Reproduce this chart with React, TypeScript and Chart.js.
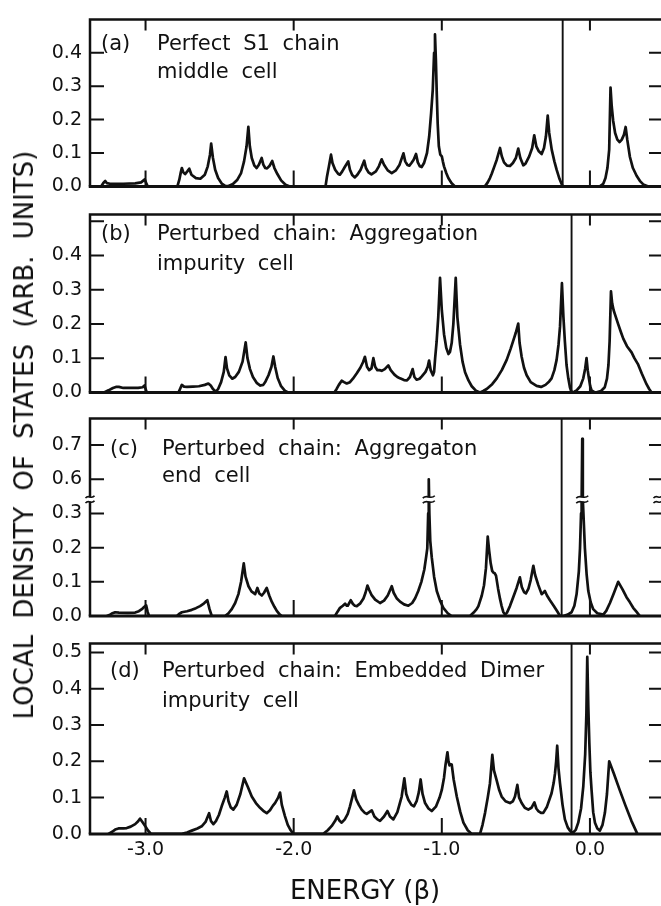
import { useEffect, useRef } from 'react';
import { Chart, registerables } from 'chart.js';

Chart.register(...registerables);

type Pt = [number, number];

// ---------- data ----------
const energyRange = [-3.375, 0.5];
const energyTicks = [-3, -2, -1, 0];

const dosPanelA: Pt[] = [
  [-3.30, 0], [-3.285, 0.010], [-3.272, 0.016], [-3.262, 0.010], [-3.24, 0.008], [-3.15, 0.008], [-3.07, 0.009], [-3.03, 0.012], [-3.005, 0.021], [-2.992, 0.006], [-2.985, 0],
  [-2.785, 0], [-2.772, 0.02], [-2.762, 0.042], [-2.755, 0.055], [-2.745, 0.042], [-2.733, 0.037], [-2.718, 0.045], [-2.705, 0.053], [-2.69, 0.035], [-2.66, 0.025], [-2.63, 0.023], [-2.60, 0.035], [-2.58, 0.06], [-2.565, 0.095], [-2.557, 0.128], [-2.545, 0.085], [-2.53, 0.05], [-2.51, 0.025], [-2.485, 0.008], [-2.46, 0.001], [-2.44, 0.001], [-2.41, 0.007], [-2.38, 0.02], [-2.355, 0.04], [-2.335, 0.075], [-2.318, 0.12], [-2.306, 0.178], [-2.296, 0.12], [-2.283, 0.085], [-2.265, 0.062], [-2.25, 0.055], [-2.235, 0.065], [-2.216, 0.085], [-2.205, 0.065], [-2.192, 0.055], [-2.18, 0.054], [-2.162, 0.062], [-2.145, 0.076], [-2.13, 0.055], [-2.11, 0.037], [-2.085, 0.018], [-2.055, 0.005], [-2.026, 0],
  [-1.785, 0], [-1.775, 0.03], [-1.762, 0.06], [-1.748, 0.095], [-1.738, 0.07], [-1.72, 0.05], [-1.70, 0.038], [-1.688, 0.035], [-1.672, 0.045], [-1.655, 0.058], [-1.632, 0.075], [-1.62, 0.05], [-1.605, 0.034], [-1.587, 0.027], [-1.57, 0.035], [-1.548, 0.05], [-1.524, 0.077], [-1.512, 0.055], [-1.495, 0.042], [-1.475, 0.036], [-1.445, 0.045], [-1.425, 0.06], [-1.406, 0.081], [-1.39, 0.065], [-1.365, 0.048], [-1.338, 0.04], [-1.31, 0.048], [-1.285, 0.065], [-1.259, 0.099], [-1.247, 0.075], [-1.232, 0.064], [-1.219, 0.062], [-1.205, 0.07], [-1.19, 0.08], [-1.174, 0.097], [-1.162, 0.072], [-1.148, 0.06], [-1.136, 0.058], [-1.12, 0.07], [-1.1, 0.1], [-1.085, 0.15], [-1.072, 0.22], [-1.061, 0.29], [-1.052, 0.4], [-1.046, 0.455], [-1.04, 0.38], [-1.034, 0.277], [-1.028, 0.19], [-1.02, 0.12], [-1.01, 0.095], [-1.0, 0.09], [-0.993, 0.075], [-0.985, 0.06], [-0.97, 0.04], [-0.956, 0.025], [-0.935, 0.01], [-0.911, 0],
  [-0.709, 0], [-0.69, 0.012], [-0.675, 0.025], [-0.663, 0.038], [-0.645, 0.06], [-0.629, 0.08], [-0.607, 0.115], [-0.595, 0.09], [-0.58, 0.072], [-0.56, 0.062], [-0.54, 0.061], [-0.52, 0.07], [-0.5, 0.085], [-0.484, 0.113], [-0.47, 0.085], [-0.45, 0.063], [-0.435, 0.068], [-0.41, 0.09], [-0.39, 0.115], [-0.376, 0.153], [-0.362, 0.12], [-0.345, 0.105], [-0.326, 0.097], [-0.31, 0.115], [-0.297, 0.15], [-0.285, 0.212], [-0.275, 0.16], [-0.258, 0.11], [-0.24, 0.075], [-0.225, 0.05], [-0.205, 0.022], [-0.191, 0.007], [-0.184, 0],
  [0.067, 0], [0.09, 0.008], [0.105, 0.025], [0.118, 0.055], [0.13, 0.11], [0.139, 0.296], [0.147, 0.24], [0.157, 0.196], [0.17, 0.16], [0.185, 0.14], [0.2, 0.133], [0.215, 0.14], [0.23, 0.155], [0.241, 0.178], [0.252, 0.14], [0.27, 0.088], [0.29, 0.055], [0.315, 0.032], [0.34, 0.015], [0.36, 0.006], [0.394, 0],
];

const dosPanelB: Pt[] = [
  [-3.28, 0], [-3.25, 0.006], [-3.22, 0.013], [-3.20, 0.016], [-3.18, 0.016], [-3.15, 0.013], [-3.10, 0.013], [-3.05, 0.013], [-3.02, 0.015], [-3.007, 0.02], [-2.998, 0.008], [-2.992, 0],
  [-2.777, 0], [-2.765, 0.012], [-2.755, 0.022], [-2.74, 0.017], [-2.72, 0.016], [-2.68, 0.017], [-2.64, 0.018], [-2.60, 0.022], [-2.576, 0.026], [-2.56, 0.02], [-2.545, 0.01], [-2.525, 0.002], [-2.51, 0.01], [-2.49, 0.03], [-2.472, 0.06], [-2.46, 0.103], [-2.45, 0.07], [-2.435, 0.05], [-2.415, 0.04], [-2.395, 0.045], [-2.37, 0.06], [-2.345, 0.09], [-2.324, 0.146], [-2.312, 0.1], [-2.295, 0.068], [-2.275, 0.045], [-2.25, 0.028], [-2.225, 0.02], [-2.205, 0.022], [-2.19, 0.032], [-2.17, 0.05], [-2.15, 0.075], [-2.137, 0.105], [-2.125, 0.075], [-2.108, 0.042], [-2.085, 0.018], [-2.06, 0.005], [-2.038, 0],
  [-1.725, 0], [-1.71, 0.01], [-1.695, 0.022], [-1.676, 0.034], [-1.66, 0.03], [-1.642, 0.026], [-1.62, 0.03], [-1.6, 0.04], [-1.575, 0.055], [-1.55, 0.072], [-1.532, 0.088], [-1.519, 0.104], [-1.505, 0.075], [-1.49, 0.065], [-1.475, 0.07], [-1.462, 0.1], [-1.45, 0.075], [-1.435, 0.065], [-1.42, 0.065], [-1.406, 0.063], [-1.385, 0.068], [-1.361, 0.079], [-1.345, 0.065], [-1.32, 0.052], [-1.3, 0.045], [-1.282, 0.041], [-1.255, 0.036], [-1.235, 0.035], [-1.215, 0.045], [-1.197, 0.068], [-1.185, 0.045], [-1.17, 0.037], [-1.15, 0.04], [-1.135, 0.047], [-1.11, 0.06], [-1.095, 0.075], [-1.086, 0.093], [-1.075, 0.065], [-1.06, 0.05], [-1.052, 0.06], [-1.045, 0.1], [-1.035, 0.148], [-1.024, 0.22], [-1.012, 0.335], [-1.0, 0.24], [-0.985, 0.17], [-0.97, 0.13], [-0.955, 0.112], [-0.945, 0.118], [-0.933, 0.145], [-0.922, 0.2], [-0.906, 0.335], [-0.895, 0.22], [-0.877, 0.14], [-0.86, 0.09], [-0.843, 0.059], [-0.82, 0.035], [-0.798, 0.018], [-0.77, 0.005], [-0.742, 0],
  [-0.72, 0.004], [-0.697, 0.01], [-0.66, 0.024], [-0.629, 0.041], [-0.595, 0.065], [-0.562, 0.095], [-0.535, 0.128], [-0.517, 0.152], [-0.5, 0.175], [-0.484, 0.201], [-0.475, 0.145], [-0.461, 0.104], [-0.445, 0.072], [-0.427, 0.05], [-0.4, 0.03], [-0.36, 0.019], [-0.33, 0.016], [-0.3, 0.022], [-0.275, 0.032], [-0.259, 0.041], [-0.24, 0.065], [-0.225, 0.095], [-0.212, 0.14], [-0.202, 0.192], [-0.189, 0.319], [-0.179, 0.22], [-0.169, 0.148], [-0.158, 0.08], [-0.146, 0.041], [-0.135, 0.015], [-0.124, 0],
  [-0.105, 0.002], [-0.09, 0.006], [-0.065, 0.018], [-0.045, 0.041], [-0.032, 0.07], [-0.023, 0.1], [-0.015, 0.065], [-0.007, 0.041], [0.002, 0.018], [0.011, 0.006], [0.03, 0.001], [0.045, 0],
  [0.075, 0.004], [0.1, 0.015], [0.115, 0.04], [0.125, 0.08], [0.133, 0.15], [0.142, 0.295], [0.15, 0.26], [0.16, 0.24], [0.169, 0.228], [0.19, 0.2], [0.21, 0.175], [0.225, 0.157], [0.25, 0.135], [0.281, 0.117], [0.3, 0.1], [0.326, 0.081], [0.35, 0.055], [0.382, 0.024], [0.4, 0.01], [0.416, 0],
];

const dosPanelC: Pt[] = [
  [-3.26, 0], [-3.24, 0.004], [-3.228, 0.007], [-3.205, 0.011], [-3.18, 0.01], [-3.12, 0.009], [-3.07, 0.01], [-3.045, 0.014], [-3.025, 0.02], [-3.01, 0.026], [-2.996, 0.031], [-2.986, 0.012], [-2.976, 0],
  [-2.789, 0], [-2.77, 0.007], [-2.755, 0.011], [-2.72, 0.014], [-2.688, 0.018], [-2.66, 0.023], [-2.632, 0.029], [-2.605, 0.037], [-2.583, 0.046], [-2.568, 0.02], [-2.553, 0],
  [-2.463, 0], [-2.44, 0.008], [-2.418, 0.02], [-2.395, 0.038], [-2.373, 0.064], [-2.355, 0.1], [-2.337, 0.154], [-2.325, 0.115], [-2.305, 0.087], [-2.285, 0.072], [-2.26, 0.064], [-2.245, 0.082], [-2.232, 0.066], [-2.215, 0.06], [-2.2, 0.068], [-2.182, 0.082], [-2.165, 0.06], [-2.148, 0.042], [-2.13, 0.027], [-2.114, 0.015], [-2.095, 0.005], [-2.08, 0],
  [-1.721, 0], [-1.705, 0.012], [-1.687, 0.024], [-1.668, 0.03], [-1.653, 0.036], [-1.642, 0.03], [-1.635, 0.03], [-1.615, 0.046], [-1.6, 0.035], [-1.587, 0.03], [-1.574, 0.029], [-1.55, 0.037], [-1.529, 0.051], [-1.515, 0.068], [-1.502, 0.089], [-1.49, 0.076], [-1.475, 0.062], [-1.45, 0.048], [-1.417, 0.038], [-1.39, 0.045], [-1.365, 0.06], [-1.338, 0.087], [-1.325, 0.068], [-1.305, 0.052], [-1.282, 0.042], [-1.255, 0.034], [-1.226, 0.03], [-1.2, 0.038], [-1.18, 0.052], [-1.159, 0.073], [-1.138, 0.1], [-1.118, 0.136], [-1.105, 0.175], [-1.098, 0.198], [-1.092, 0.3], [-1.088, 0.6], [-1.084, 0.3], [-1.078, 0.22], [-1.068, 0.172], [-1.052, 0.115], [-1.034, 0.073], [-1.012, 0.045], [-0.99, 0.024], [-0.96, 0.008], [-0.934, 0],
  [-0.81, 0], [-0.785, 0.01], [-0.765, 0.02], [-0.753, 0.029], [-0.73, 0.06], [-0.715, 0.09], [-0.702, 0.14], [-0.69, 0.232], [-0.68, 0.19], [-0.67, 0.154], [-0.66, 0.132], [-0.652, 0.127], [-0.643, 0.125], [-0.634, 0.118], [-0.62, 0.08], [-0.607, 0.05], [-0.596, 0.029], [-0.585, 0.012], [-0.573, 0.004], [-0.56, 0.01], [-0.54, 0.029], [-0.518, 0.055], [-0.495, 0.082], [-0.473, 0.113], [-0.46, 0.085], [-0.445, 0.07], [-0.432, 0.066], [-0.415, 0.08], [-0.4, 0.105], [-0.382, 0.147], [-0.37, 0.12], [-0.349, 0.091], [-0.326, 0.064], [-0.315, 0.068], [-0.304, 0.073], [-0.29, 0.06], [-0.27, 0.046], [-0.245, 0.03], [-0.22, 0.013], [-0.202, 0],
  [-0.18, 0], [-0.15, 0.004], [-0.124, 0.011], [-0.105, 0.03], [-0.09, 0.064], [-0.075, 0.13], [-0.067, 0.198], [-0.06, 0.3], [-0.056, 0.34], [-0.052, 0.718], [-0.048, 0.34], [-0.042, 0.28], [-0.034, 0.198], [-0.022, 0.12], [-0.011, 0.073], [0.005, 0.04], [0.022, 0.02], [0.05, 0.008], [0.09, 0.004], [0.11, 0.015], [0.135, 0.038], [0.16, 0.065], [0.191, 0.1], [0.22, 0.078], [0.247, 0.055], [0.27, 0.04], [0.292, 0.024], [0.315, 0.012], [0.337, 0],
];

const dosPanelD: Pt[] = [
  [-3.25, 0], [-3.225, 0.006], [-3.205, 0.012], [-3.183, 0.015], [-3.15, 0.015], [-3.127, 0.016], [-3.1, 0.02], [-3.07, 0.027], [-3.05, 0.035], [-3.037, 0.042], [-3.02, 0.032], [-3.003, 0.022], [-2.985, 0.01], [-2.963, 0],
  [-2.755, 0], [-2.72, 0.004], [-2.688, 0.009], [-2.65, 0.015], [-2.621, 0.021], [-2.595, 0.033], [-2.571, 0.057], [-2.558, 0.035], [-2.542, 0.027], [-2.525, 0.035], [-2.505, 0.052], [-2.486, 0.076], [-2.465, 0.1], [-2.452, 0.117], [-2.44, 0.09], [-2.425, 0.073], [-2.407, 0.067], [-2.385, 0.08], [-2.36, 0.11], [-2.335, 0.153], [-2.31, 0.13], [-2.283, 0.103], [-2.255, 0.085], [-2.227, 0.072], [-2.2, 0.062], [-2.182, 0.057], [-2.16, 0.065], [-2.14, 0.078], [-2.126, 0.085], [-2.105, 0.1], [-2.092, 0.114], [-2.08, 0.08], [-2.059, 0.049], [-2.04, 0.025], [-2.02, 0.01], [-2.002, 0],
  [-1.8, 0], [-1.77, 0.01], [-1.743, 0.022], [-1.72, 0.036], [-1.706, 0.048], [-1.69, 0.036], [-1.676, 0.031], [-1.655, 0.04], [-1.635, 0.055], [-1.62, 0.076], [-1.605, 0.1], [-1.593, 0.12], [-1.578, 0.095], [-1.56, 0.08], [-1.541, 0.067], [-1.52, 0.058], [-1.507, 0.055], [-1.49, 0.06], [-1.473, 0.065], [-1.455, 0.048], [-1.435, 0.04], [-1.417, 0.036], [-1.39, 0.048], [-1.367, 0.063], [-1.35, 0.048], [-1.327, 0.04], [-1.3, 0.06], [-1.271, 0.103], [-1.253, 0.153], [-1.24, 0.11], [-1.226, 0.094], [-1.205, 0.08], [-1.188, 0.076], [-1.17, 0.09], [-1.155, 0.115], [-1.143, 0.15], [-1.13, 0.11], [-1.113, 0.085], [-1.09, 0.07], [-1.068, 0.063], [-1.04, 0.075], [-1.015, 0.1], [-1.0, 0.121], [-0.985, 0.155], [-0.975, 0.19], [-0.962, 0.225], [-0.955, 0.2], [-0.948, 0.189], [-0.94, 0.192], [-0.933, 0.191], [-0.92, 0.15], [-0.899, 0.103], [-0.875, 0.06], [-0.854, 0.031], [-0.825, 0.01], [-0.798, 0],
  [-0.742, 0], [-0.725, 0.025], [-0.708, 0.058], [-0.69, 0.1], [-0.675, 0.139], [-0.659, 0.218], [-0.648, 0.175], [-0.63, 0.148], [-0.612, 0.12], [-0.596, 0.103], [-0.57, 0.09], [-0.54, 0.085], [-0.52, 0.09], [-0.506, 0.103], [-0.49, 0.135], [-0.478, 0.1], [-0.461, 0.085], [-0.44, 0.072], [-0.416, 0.067], [-0.395, 0.072], [-0.375, 0.087], [-0.362, 0.07], [-0.349, 0.063], [-0.33, 0.058], [-0.315, 0.058], [-0.29, 0.075], [-0.259, 0.112], [-0.245, 0.14], [-0.236, 0.166], [-0.228, 0.2], [-0.221, 0.243], [-0.212, 0.18], [-0.202, 0.139], [-0.185, 0.08], [-0.169, 0.04], [-0.15, 0.018], [-0.135, 0.009], [-0.124, 0.004],
  [-0.112, 0.004], [-0.095, 0.012], [-0.079, 0.031], [-0.06, 0.07], [-0.045, 0.13], [-0.032, 0.22], [-0.024, 0.33], [-0.018, 0.488], [-0.011, 0.35], [-0.004, 0.25], [0.003, 0.17], [0.011, 0.121], [0.022, 0.06], [0.034, 0.031], [0.05, 0.015], [0.067, 0.009], [0.085, 0.025], [0.101, 0.058], [0.115, 0.11], [0.13, 0.2], [0.16, 0.168], [0.2, 0.122], [0.24, 0.078], [0.28, 0.036], [0.32, 0],
];

const boundStateEnergies = [-0.184, -0.124, -0.191, -0.124];
const panelTags = ['(a)', '(b)', '(c)', '(d)'];
const panelLine1 = ['Perfect S1 chain', 'Perturbed chain: Aggregation', 'Perturbed chain: Aggregaton', 'Perturbed chain: Embedded Dimer'];
const panelLine2 = ['middle cell', 'impurity cell', 'end cell', 'impurity cell'];
const brokenAxisLabels = ['0.0', '0.1', '0.2', '0.3', '0.6', '0.7'];
const brokenPeakEnergies = [-1.088, -0.052];
const BREAK_AT = 0.341;
const BREAK_GAP = 0.2;
const xTitle = 'ENERGY (β)';
const yTitle = 'LOCAL DENSITY OF STATES (ARB. UNITS)';

// ---------- layout / style ----------
const INK = '#111';
const FONT = "'DejaVu Sans', sans-serif";
const CANVAS_W = 680;
const PLOT_LEFT = 90;
const PLOT_RIGHT = 664;

type PanelCfg = {
  data: Pt[]; bound: number; top: number; bottom: number; yMax: number; labelMax: number;
  tagX: number; textX: number; base1: number; base2: number; broken: boolean; xAxis: boolean;
};

const PANELS: PanelCfg[] = [
  { data: dosPanelA, bound: boundStateEnergies[0], top: 13.5, bottom: 200.2, yMax: 0.5, labelMax: 0.4, tagX: 101, textX: 157, base1: 50, base2: 78, broken: false, xAxis: false },
  { data: dosPanelB, bound: boundStateEnergies[1], top: 209.3, bottom: 405.7, yMax: 0.52, labelMax: 0.4, tagX: 101, textX: 157, base1: 240, base2: 270, broken: false, xAxis: false },
  { data: dosPanelC, bound: boundStateEnergies[2], top: 413.3, bottom: 629, yMax: 0.578, labelMax: 0.5, tagX: 110, textX: 162, base1: 455, base2: 481.7, broken: true, xAxis: false },
  { data: dosPanelD, bound: boundStateEnergies[3], top: 638.3, bottom: 833.9, yMax: 0.525, labelMax: 0.5, tagX: 110, textX: 162, base1: 676.7, base2: 706.7, broken: false, xAxis: true },
];

function drawBreak(ctx: CanvasRenderingContext2D, cx: number, cy: number, w: number) {
  ctx.save();
  ctx.fillStyle = '#fff';
  ctx.fillRect(cx - w / 2, cy - 2, w, 4);
  ctx.strokeStyle = INK;
  ctx.lineWidth = 1.6;
  for (const dy of [-2.5, 2.5]) {
    ctx.beginPath();
    ctx.moveTo(cx - w / 2, cy + dy + 1.2);
    ctx.bezierCurveTo(cx - w / 6, cy + dy - 3, cx + w / 6, cy + dy + 3, cx + w / 2, cy + dy - 1.2);
    ctx.stroke();
  }
  ctx.restore();
}

function Panel({ cfg, index }: { cfg: PanelCfg; index: number }) {
  const ref = useRef<HTMLCanvasElement>(null);
  const canvasTop = Math.max(0, Math.floor(cfg.top) - 14);
  const canvasH = cfg.xAxis ? 906 - canvasTop : Math.ceil(cfg.bottom) + 13 - canvasTop;

  useEffect(() => {
    const canvas = ref.current;
    if (!canvas) return;
    const toDisplay = (v: number) =>
      cfg.broken ? (v <= BREAK_AT ? v : Math.max(BREAK_AT, v - BREAK_GAP)) : v;
    const padTop = cfg.top - canvasTop;
    const below = canvasH - (cfg.bottom - canvasTop);
    const tickFont = { family: FONT, size: 19 };

    const framePlugin = {
      id: 'frame' + index,
      afterDraw(chart: any) {
        const ctx: CanvasRenderingContext2D = chart.ctx;
        const { left, right, top, bottom } = chart.chartArea;
        const xs = chart.scales.x;
        const ys = chart.scales.y;
        ctx.save();
        ctx.strokeStyle = INK;
        ctx.fillStyle = INK;
        ctx.lineCap = 'butt';
        ctx.lineWidth = 2.5;
        ctx.beginPath();
        ctx.moveTo(left, bottom);
        ctx.lineTo(left, top);
        ctx.lineTo(right, top);
        ctx.lineTo(right, bottom);
        ctx.stroke();
        ctx.lineWidth = 3;
        ctx.beginPath();
        ctx.moveTo(left - 1.25, bottom);
        ctx.lineTo(right + 1.25, bottom);
        ctx.stroke();
        ctx.lineWidth = 2;
        ctx.beginPath();
        for (const e of energyTicks) {
          const px = xs.getPixelForValue(e);
          ctx.moveTo(px, top);
          ctx.lineTo(px, top + 11);
          ctx.moveTo(px, bottom);
          ctx.lineTo(px, bottom - 16);
        }
        for (const t of ys.ticks) {
          const py = ys.getPixelForValue(t.value);
          if (t.value <= 1e-6 || py < top + 3) continue;
          ctx.moveTo(left, py);
          ctx.lineTo(left + 14, py);
          ctx.moveTo(right, py);
          ctx.lineTo(right - 15, py);
        }
        ctx.stroke();

        if (cfg.broken) {
          const by = ys.getPixelForValue(BREAK_AT);
          drawBreak(ctx, left, by, 9);
          drawBreak(ctx, right - 6, by, 9);
          for (const e of brokenPeakEnergies) drawBreak(ctx, xs.getPixelForValue(e), by, 12);
        }

        ctx.font = `21px ${FONT}`;
        ctx.textAlign = 'left';
        ctx.textBaseline = 'alphabetic';
        (ctx as any).wordSpacing = '6px';
        ctx.fillText(panelTags[index], cfg.tagX, cfg.base1 - canvasTop);
        ctx.fillText(panelLine1[index], cfg.textX, cfg.base1 - canvasTop);
        ctx.fillText(panelLine2[index], cfg.textX, cfg.base2 - canvasTop);
        (ctx as any).wordSpacing = '0px';

        if (cfg.xAxis) {
          ctx.font = `26px ${FONT}`;
          ctx.textAlign = 'center';
          ctx.textBaseline = 'middle';
          ctx.fillText(xTitle, 365, 892 - canvasTop);
        }
        ctx.restore();
      },
    };

    const chart = new Chart(canvas, {
      type: 'line',
      data: {
        datasets: [
          {
            data: cfg.data.map(([e, d]) => ({ x: e, y: toDisplay(d) })),
            borderColor: INK,
            borderWidth: 2.7,
            pointRadius: 0,
            tension: 0,
            fill: false,
            borderJoinStyle: 'round',
            borderCapStyle: 'round',
          },
          {
            data: [{ x: cfg.bound, y: 0 }, { x: cfg.bound, y: cfg.yMax }],
            borderColor: INK,
            borderWidth: 1.9,
            pointRadius: 0,
            fill: false,
          },
        ],
      },
      options: {
        responsive: false,
        animation: false,
        devicePixelRatio: 1,
        events: [],
        layout: {
          autoPadding: false,
          padding: { top: padTop, bottom: cfg.xAxis ? 0 : below, left: 0, right: CANVAS_W - PLOT_RIGHT },
        },
        plugins: { legend: { display: false }, tooltip: { enabled: false }, title: { display: false } },
        scales: {
          x: {
            type: 'linear',
            min: energyRange[0],
            max: energyRange[1],
            display: cfg.xAxis,
            position: 'bottom',
            grid: { display: false, drawTicks: false },
            border: { display: false },
            ticks: {
              stepSize: 1,
              includeBounds: false,
              autoSkip: false,
              maxRotation: 0,
              padding: 5,
              color: INK,
              font: tickFont,
              callback: (v: any) => Number(v).toFixed(1),
            },
            afterFit: (s: any) => { s.height = below; },
          },
          y: {
            type: 'linear',
            min: 0,
            max: cfg.yMax,
            grid: { display: false, drawTicks: false },
            border: { display: false },
            ticks: {
              stepSize: 0.1,
              includeBounds: false,
              autoSkip: false,
              padding: 8,
              color: INK,
              font: tickFont,
              callback: (v: any) => {
                const n = Number(v);
                if (n > cfg.labelMax + 1e-6) return '';
                return cfg.broken ? brokenAxisLabels[Math.round(n * 10)] : n.toFixed(1);
              },
            },
            afterFit: (s: any) => { s.width = PLOT_LEFT; },
          },
        },
      } as any,
      plugins: [framePlugin],
    });
    return () => chart.destroy();
  }, []);

  return (
    <canvas
      ref={ref}
      width={CANVAS_W}
      height={canvasH}
      style={{ position: 'absolute', left: 0, top: canvasTop, display: 'block' }}
    />
  );
}

export default function App() {
  return (
    <div style={{ position: 'absolute', left: 0, top: 0, width: 661, height: 906, overflow: 'hidden', background: '#fff' }}>
      {PANELS.map((p, i) => <Panel key={i} cfg={p} index={i} />)}
      <div
        style={{
          position: 'absolute', left: 24, top: 435,
          transform: 'translate(-50%, -50%) rotate(-90deg)',
          whiteSpace: 'nowrap', font: `26px ${FONT}`, wordSpacing: '8px', color: INK, lineHeight: 1,
        }}
      >
        {yTitle}
      </div>
    </div>
  );
}
